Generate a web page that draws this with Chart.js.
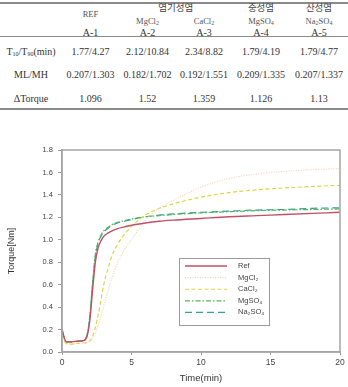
<!DOCTYPE html>
<html lang="ko">
<head>
    <meta charset="UTF-8">
    <title>Torque curves</title>
    <style>
        body {
            margin: 0;
            background: #fff;
            width: 348px;
            height: 387px;
            position: relative;
            overflow: hidden;
        }

        .t {
            position: absolute;
            transform: translate(-50%, -50%);
            white-space: nowrap;
            font-family: "Liberation Serif", "DejaVu Serif", serif;
            font-size: 10px;
            color: #333;
        }

        .ko {
            font-family: "Noto Sans CJK KR", sans-serif;
            font-size: 9.5px;
            color: #444;
        }

        .salt {
            font-size: 8.5px;
            color: #555;
        }

        .t sub {
            font-size: 6px;
            vertical-align: -1px;
        }

        .rule {
            position: absolute;
            left: 0;
            width: 348px;
            background: #8a8a8a;
        }

        #chartBox {
            position: absolute;
            left: 0;
            top: 135px;
            width: 348px;
            height: 252px;
        }
    </style>
    <script src="https://cdn.jsdelivr.net/npm/chart.js"></script>
</head>
<body>
    <div id="table"></div>

    <div id="chartBox">
        <canvas id="torqueChart" width="348" height="252"></canvas>
    </div>

    <script>
        // ---- table data ----
        const colCodes = ["A-1", "A-2", "A-3", "A-4", "A-5"];
        const colSalts = ["REF", "MgCl<sub>2</sub>", "CaCl<sub>2</sub>", "MgSO<sub>4</sub>", "Na<sub>2</sub>SO<sub>4</sub>"];
        const rowLabels = ["T<sub>10</sub>/T<sub>90</sub>(min)", "ML/MH", "&Delta;Torque"];
        const t10t90 = ["1.77/4.27", "2.12/10.84", "2.34/8.82", "1.79/4.19", "1.79/4.77"];
        const mlmh = ["0.207/1.303", "0.182/1.702", "0.192/1.551", "0.209/1.335", "0.207/1.337"];
        const dTorque = ["1.096", "1.52", "1.359", "1.126", "1.13"];

        // ---- chart data ----
        const time = [0, 0.3, 0.6, 1, 1.5, 1.8, 2, 2.2, 2.4, 2.6, 2.8, 3, 3.3, 3.6, 4, 4.5, 5, 6, 7, 8, 10, 12, 14, 16, 18, 20];
        const refTorque = [0.2, 0.09, 0.09, 0.095, 0.10, 0.14, 0.28, 0.55, 0.80, 0.93, 0.99, 1.03, 1.06, 1.08, 1.10, 1.115, 1.13, 1.15, 1.165, 1.175, 1.19, 1.205, 1.215, 1.225, 1.235, 1.245];
        const mgcl2Torque = [0.15, 0.075, 0.07, 0.075, 0.08, 0.085, 0.095, 0.12, 0.17, 0.24, 0.32, 0.41, 0.54, 0.66, 0.80, 0.91, 1.0, 1.17, 1.28, 1.35, 1.47, 1.545, 1.585, 1.61, 1.625, 1.635];
        const cacl2Torque = [0.15, 0.075, 0.07, 0.075, 0.08, 0.085, 0.10, 0.14, 0.22, 0.33, 0.46, 0.60, 0.74, 0.86, 0.96, 1.05, 1.12, 1.22, 1.28, 1.32, 1.38, 1.42, 1.445, 1.462, 1.475, 1.485];
        const mgso4Torque = [0.2, 0.09, 0.09, 0.095, 0.10, 0.15, 0.32, 0.62, 0.87, 0.98, 1.04, 1.08, 1.11, 1.135, 1.155, 1.17, 1.185, 1.205, 1.215, 1.225, 1.24, 1.25, 1.26, 1.265, 1.27, 1.275];
        const na2so4Torque = [0.19, 0.09, 0.09, 0.095, 0.10, 0.15, 0.31, 0.60, 0.85, 0.97, 1.03, 1.07, 1.10, 1.13, 1.15, 1.165, 1.18, 1.205, 1.22, 1.23, 1.245, 1.255, 1.265, 1.27, 1.28, 1.285];
        const seriesNames = ["Ref", "MgCl₂", "CaCl₂", "MgSO₄", "Na₂SO₄"];
        const xTicks = [0, 5, 10, 15, 20];

        // ---- build the table (absolute layout, fixed 348px page) ----
        const colX = [31, 90.5, 147.5, 204, 261, 319];
        const rowY = [51, 74, 98];
        const tableEl = document.getElementById("table");

        function addText(html, x, y, cls) {
            let s = document.createElement("div");
            s.className = "t" + (cls ? " " + cls : "");
            s.style.left = x + "px";
            s.style.top = y + "px";
            s.innerHTML = html;
            tableEl.appendChild(s);
        }

        function addRule(y, h) {
            let r = document.createElement("div");
            r.className = "rule";
            r.style.top = y + "px";
            r.style.height = h + "px";
            tableEl.appendChild(r);
        }

        addRule(2, 2);
        addRule(36, 1);
        addRule(108, 2);

        addText("염기성염", (colX[2] + colX[3]) / 2, 7, "ko");
        addText("중성염", colX[4], 7, "ko");
        addText("산성염", colX[5], 7, "ko");

        colSalts.forEach((s, i) => {
            addText(s, colX[i + 1], i === 0 ? 14 : 21, "salt");
            addText(colCodes[i], colX[i + 1], 32);
        });

        [t10t90, mlmh, dTorque].forEach((row, r) => {
            addText(rowLabels[r], colX[0], rowY[r]);
            row.forEach((v, i) => addText(v, colX[i + 1], rowY[r]));
        });

        // ---- chart ----
        function toPoints(values) {
            return values.map((v, i) => ({ x: time[i], y: v }));
        }

        // gray frame round the plot area
        const framePlugin = {
            id: "frame",
            afterDatasetsDraw(chart) {
                const a = chart.chartArea;
                const ctx = chart.ctx;
                ctx.save();
                ctx.strokeStyle = "#a5a5a5";
                ctx.lineWidth = 1.5;
                ctx.strokeRect(a.left, a.top, a.right - a.left, a.bottom - a.top);
                ctx.restore();
            }
        };

        // legend box drawn inside the plot area
        const insideLegend = {
            id: "insideLegend",
            afterDraw(chart) {
                const ctx = chart.ctx;
                const bx = 179, by = 258 - 135, bw = 90, bh = 67;
                ctx.save();
                ctx.fillStyle = "#fff";
                ctx.fillRect(bx, by, bw, bh);
                ctx.strokeStyle = "#9a9a9a";
                ctx.lineWidth = 1;
                ctx.strokeRect(bx + 0.5, by + 0.5, bw, bh);
                ctx.font = "7.5px 'Liberation Sans', Arial, sans-serif";
                ctx.textBaseline = "middle";
                chart.data.datasets.forEach((ds, i) => {
                    const y = by + 8 + i * 11.6;
                    ctx.strokeStyle = ds.borderColor;
                    ctx.lineWidth = ds.borderWidth;
                    ctx.setLineDash(ds.borderDash || []);
                    ctx.beginPath();
                    ctx.moveTo(bx + 6, y);
                    ctx.lineTo(bx + 48, y);
                    ctx.stroke();
                    ctx.setLineDash([]);
                    ctx.fillStyle = "#444";
                    ctx.fillText(ds.label, bx + 59, y);
                });
                ctx.restore();
            }
        };

        const ctx = document.getElementById("torqueChart").getContext("2d");
        new Chart(ctx, {
            type: "line",
            data: {
                datasets: [
                    { label: seriesNames[0], data: toPoints(refTorque), borderColor: "#c24f66", borderWidth: 1.4 },
                    { label: seriesNames[1], data: toPoints(mgcl2Torque), borderColor: "#f8d2b6", borderWidth: 1.2, borderDash: [1, 1.5] },
                    { label: seriesNames[2], data: toPoints(cacl2Torque), borderColor: "#d4d640", borderWidth: 1.1, borderDash: [4, 2.5] },
                    { label: seriesNames[3], data: toPoints(mgso4Torque), borderColor: "#58b458", borderWidth: 1.2, borderDash: [5, 2, 1.5, 2] },
                    { label: seriesNames[4], data: toPoints(na2so4Torque), borderColor: "#33a09c", borderWidth: 1.2, borderDash: [7, 4] }
                ]
            },
            options: {
                responsive: false,
                animation: false,
                layout: { padding: { top: 15, right: 8, left: 0, bottom: 0 } },
                elements: {
                    point: { radius: 0 },
                    line: { cubicInterpolationMode: "monotone", fill: false }
                },
                plugins: {
                    legend: { display: false },
                    tooltip: { enabled: false }
                },
                scales: {
                    x: {
                        type: "linear",
                        min: 0,
                        max: 20,
                        afterBuildTicks: scale => { scale.ticks = xTicks.map(v => ({ value: v })); },
                        afterFit: scale => { scale.height = 35; },
                        grid: { drawOnChartArea: false, drawTicks: true, tickLength: 3, color: "#999" },
                        border: { color: "#a5a5a5", width: 1.5 },
                        ticks: {
                            color: "#444",
                            padding: 3,
                            font: { family: "'Liberation Sans', Arial, sans-serif", size: 8.5 }
                        },
                        title: {
                            display: true,
                            text: "Time(min)",
                            color: "#333",
                            padding: { top: 2, bottom: 3 },
                            font: { family: "'Liberation Sans', Arial, sans-serif", size: 9.5 }
                        }
                    },
                    y: {
                        min: 0,
                        max: 1.8,
                        afterFit: scale => { scale.width = 62; },
                        grid: { drawOnChartArea: false, drawTicks: true, tickLength: 4, color: "#999" },
                        border: { color: "#a5a5a5", width: 1.5 },
                        ticks: {
                            stepSize: 0.2,
                            color: "#444",
                            padding: 5,
                            callback: v => v.toFixed(1),
                            font: { family: "'Liberation Sans', Arial, sans-serif", size: 7.5 }
                        },
                        title: {
                            display: true,
                            text: "Torque[Nm]",
                            color: "#333",
                            padding: { top: 6, bottom: 0 },
                            font: { family: "'Liberation Sans', Arial, sans-serif", size: 9 }
                        }
                    }
                }
            },
            plugins: [framePlugin, insideLegend]
        });
    </script>
</body>
</html>
